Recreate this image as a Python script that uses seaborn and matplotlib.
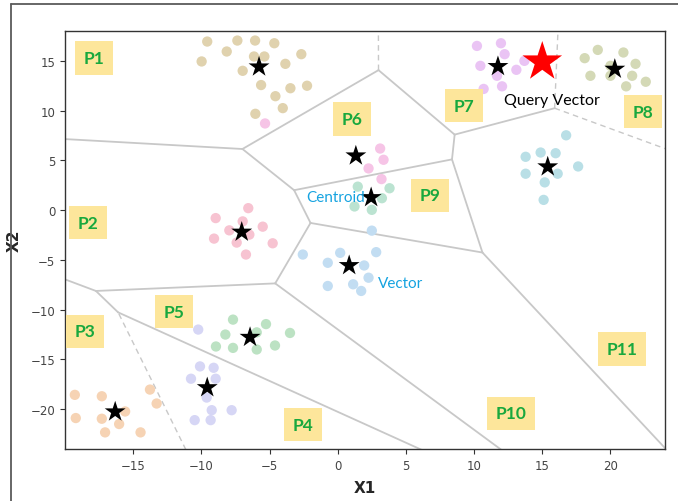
import numpy as np
import pandas as pd
import matplotlib
matplotlib.use("Agg")
import matplotlib.pyplot as plt
from matplotlib.lines import Line2D
import seaborn as sns

# Partition names and their centroids
partitions = ["P1", "P2", "P3", "P4", "P5", "P6", "P7", "P8", "P9", "P10", "P11"]
centroid_x = [-5.77, -7.04, -16.32, -9.57, -6.43, 1.33, 11.75, 20.32, 2.45, 0.84, 15.40]
centroid_y = [14.40, -2.20, -20.26, -17.83, -12.77, 5.46, 14.44, 14.17, 1.27, -5.56, 4.36]

# Vectors in each partition
P1_points = [(-9.57, 16.94), (-8.14, 15.94), (-7.36, 17.04), (-6.06, 17.04), (-4.65, 16.77),
             (-9.98, 14.94), (-6.97, 14.00), (-6.14, 15.44), (-5.38, 15.44), (-3.84, 14.70),
             (-2.67, 15.67), (-5.62, 12.57), (-3.47, 12.25), (-2.25, 12.50), (-4.57, 11.45),
             (-4.03, 10.25), (-6.04, 9.68)]
P2_points = [(-6.56, 0.20), (-8.95, -0.80), (-7.95, -2.03), (-6.97, -1.13), (-5.50, -1.66),
             (-9.07, -2.86), (-7.41, -3.26), (-6.48, -2.46), (-4.77, -3.33), (-6.73, -4.46)]
P3_points = [(-19.28, -18.56), (-17.30, -18.70), (-13.77, -18.03), (-13.28, -19.43),
             (-19.21, -20.89), (-17.30, -20.96), (-15.59, -20.23), (-16.03, -21.49),
             (-17.06, -22.33), (-14.46, -22.33)]
P4_points = [(-10.23, -12.00), (-10.10, -15.70), (-9.10, -15.84), (-10.76, -16.94),
             (-8.95, -16.94), (-9.61, -18.83), (-9.24, -20.10), (-7.78, -20.10),
             (-10.49, -21.10), (-9.32, -21.10)]
P5_points = [(-7.68, -11.00), (-5.26, -11.45), (-8.24, -12.50), (-3.50, -12.34),
             (-5.94, -12.28), (-8.93, -13.70), (-7.68, -13.84), (-5.94, -14.00), (-4.60, -13.60)]
P6_points = [(3.11, 6.19), (3.36, 5.06), (2.26, 4.19), (3.21, 3.12), (-5.33, 8.71)]
P7_points = [(10.21, 16.50), (11.97, 16.77), (12.24, 15.67), (10.46, 14.50), (11.68, 13.50),
             (10.70, 12.18), (12.05, 12.44), (13.10, 14.10), (13.69, 15.00)]
P8_points = [(18.11, 15.27), (19.07, 16.10), (20.95, 15.84), (21.84, 14.70), (18.53, 13.50),
             (20.00, 13.50), (21.59, 13.50), (21.15, 12.44), (22.59, 12.90), (20.00, 14.50)]
P9_points = [(1.47, 2.36), (3.80, 2.20), (3.24, 1.20), (1.23, 0.37), (2.50, 0.03)]
P10_points = [(-2.56, -4.46), (-0.73, -5.29), (0.18, -4.29), (1.94, -5.56), (-0.73, -7.62),
              (1.13, -7.45), (1.72, -8.12), (2.26, -6.79), (2.50, -2.06), (2.82, -4.22)]
P11_points = [(16.75, 7.52), (14.88, 5.79), (15.98, 5.72), (13.78, 5.36), (13.78, 3.66),
              (16.13, 3.66), (17.63, 4.39), (15.18, 2.79), (15.10, 1.03)]

query_x = [15.0]
query_y = [14.9]

cluster_points = [P1_points, P2_points, P3_points, P4_points, P5_points, P6_points,
                  P7_points, P8_points, P9_points, P10_points, P11_points]

palette = {
    "P1": "#e0d2ae", "P2": "#f7c3d1", "P3": "#f6d3b4", "P4": "#d6d6f5",
    "P5": "#bce2c3", "P6": "#f6c4e6", "P7": "#eac4f4", "P8": "#d4d9b6",
    "P9": "#bbe3d1", "P10": "#c2ddf2", "P11": "#b9dfe6",
}

# Region label anchor points
label_pos = {
    "P1": (-17.85, 15.27), "P2": (-18.3, -1.25), "P3": (-18.52, -12.18),
    "P4": (-2.54, -21.56), "P5": (-12.0, -10.2), "P6": (1.06, 9.15),
    "P7": (9.26, 10.51), "P8": (22.41, 9.9), "P9": (6.75, 1.5),
    "P10": (12.72, -20.43), "P11": (20.83, -13.94),
}
dashed_pairs = {("P1", "P7"), ("P7", "P8"), ("P8", "P11"), ("P3", "P4")}

XLIM = (-20, 24)
YLIM = (-24, 18)


def voronoi_edges(xs, ys, box):
    """Clip each perpendicular bisector to the cell shared by two sites."""
    pts = np.column_stack([xs, ys]).astype(float)
    n = len(pts)
    x0, x1, y0, y1 = box
    out = []
    for i in range(n):
        for j in range(i + 1, n):
            a, b = pts[i], pts[j]
            m = (a + b) / 2
            d = np.array([-(b - a)[1], (b - a)[0]])
            d /= np.linalg.norm(d)
            lo, hi = -1e4, 1e4
            for k, (lo_b, hi_b) in enumerate([(x0, x1), (y0, y1)]):
                if abs(d[k]) > 1e-12:
                    t1, t2 = (lo_b - m[k]) / d[k], (hi_b - m[k]) / d[k]
                    lo, hi = max(lo, min(t1, t2)), min(hi, max(t1, t2))
            ok = True
            for k in range(n):
                if k in (i, j):
                    continue
                c = pts[k]
                g = 2 * (c - a)
                h = c @ c - a @ a
                gd = g @ d
                rhs = h - g @ m
                if abs(gd) < 1e-12:
                    if rhs < 0:
                        ok = False
                        break
                elif gd > 0:
                    hi = min(hi, rhs / gd)
                else:
                    lo = max(lo, rhs / gd)
            if ok and lo < hi:
                out.append((i, j, m + lo * d, m + hi * d))
    return out


rows = []
for name, pts in zip(partitions, cluster_points):
    for x, y in pts:
        rows.append({"X1": x, "X2": y, "partition": name})
df = pd.DataFrame(rows)
cent = pd.DataFrame({"X1": centroid_x, "X2": centroid_y, "partition": partitions})
query = pd.DataFrame({"X1": query_x, "X2": query_y})

sns.set_theme(style="white")
plt.rcParams["font.family"] = ["DejaVu Sans"]

fig = plt.figure(figsize=(6.78, 5.02), dpi=100)
ax = fig.add_axes([65 / 678, 1 - 450 / 502, 600 / 678, 418 / 502])

# Partition boundaries
for i, j, p0, p1 in voronoi_edges(centroid_x, centroid_y, (-40, 50, -50, 45)):
    pair = (partitions[i], partitions[j])
    dashed = pair in dashed_pairs or pair[::-1] in dashed_pairs
    ax.plot([p0[0], p1[0]], [p0[1], p1[1]], color="#c8c8c8",
            lw=1.0 if dashed else 1.3, ls=(0, (4, 3)) if dashed else "-", zorder=1)

sns.scatterplot(data=df, x="X1", y="X2", hue="partition", palette=palette,
                s=55, edgecolor="none", legend=False, ax=ax, zorder=2)
sns.scatterplot(data=cent, x="X1", y="X2", marker="*", color="black",
                s=250, edgecolor="none", legend=False, ax=ax, zorder=4)
sns.scatterplot(data=query, x="X1", y="X2", marker="*", color="#ff0000",
                s=900, edgecolor="none", legend=False, ax=ax, zorder=5)

for name in partitions:
    lx, ly = label_pos[name]
    ax.text(lx, ly, name, ha="center", va="center", color="#19a83e",
            fontsize=12.5, fontweight="bold", family=["Lato", "DejaVu Sans"],
            bbox=dict(boxstyle="square,pad=0.5", fc="#fde69b", ec="none"), zorder=3)

ax.text(15.72, 11.1, "Query Vector", ha="center", va="center", color="black",
        fontsize=11.5, family=["Lato", "DejaVu Sans"], zorder=6)
ax.text(-0.12, 1.3, "Centroid", ha="center", va="center", color="#15a3e0",
        fontsize=11, family=["Lato", "DejaVu Sans"], zorder=6)
ax.text(4.6, -7.29, "Vector", ha="center", va="center", color="#15a3e0",
        fontsize=11, family=["Lato", "DejaVu Sans"], zorder=6)

ax.set_xlim(*XLIM)
ax.set_ylim(*YLIM)
ax.set_xticks([-15, -10, -5, 0, 5, 10, 15, 20])
ax.set_yticks([-20, -15, -10, -5, 0, 5, 10, 15])
ax.tick_params(axis="both", which="both", direction="out", length=3.5, width=0.8,
               labelsize=8.5, labelcolor="#444444", color="#333333",
               bottom=True, left=True)
for sp in ax.spines.values():
    sp.set_color("#333333")
    sp.set_linewidth(1.0)
ax.set_xlabel("X1", fontsize=11, fontweight="bold", labelpad=6)
ax.set_ylabel("X2", fontsize=11, fontweight="bold", labelpad=6)

# Outer frame of the figure
fig.add_artist(Line2D([11 / 678, 11 / 678], [0, 1 - 5 / 502], transform=fig.transFigure,
                      color="#5a5a5a", lw=1.3))
fig.add_artist(Line2D([11 / 678, 1], [1 - 5 / 502, 1 - 5 / 502], transform=fig.transFigure,
                      color="#5a5a5a", lw=1.3))

fig.savefig("out.png", dpi=100)
